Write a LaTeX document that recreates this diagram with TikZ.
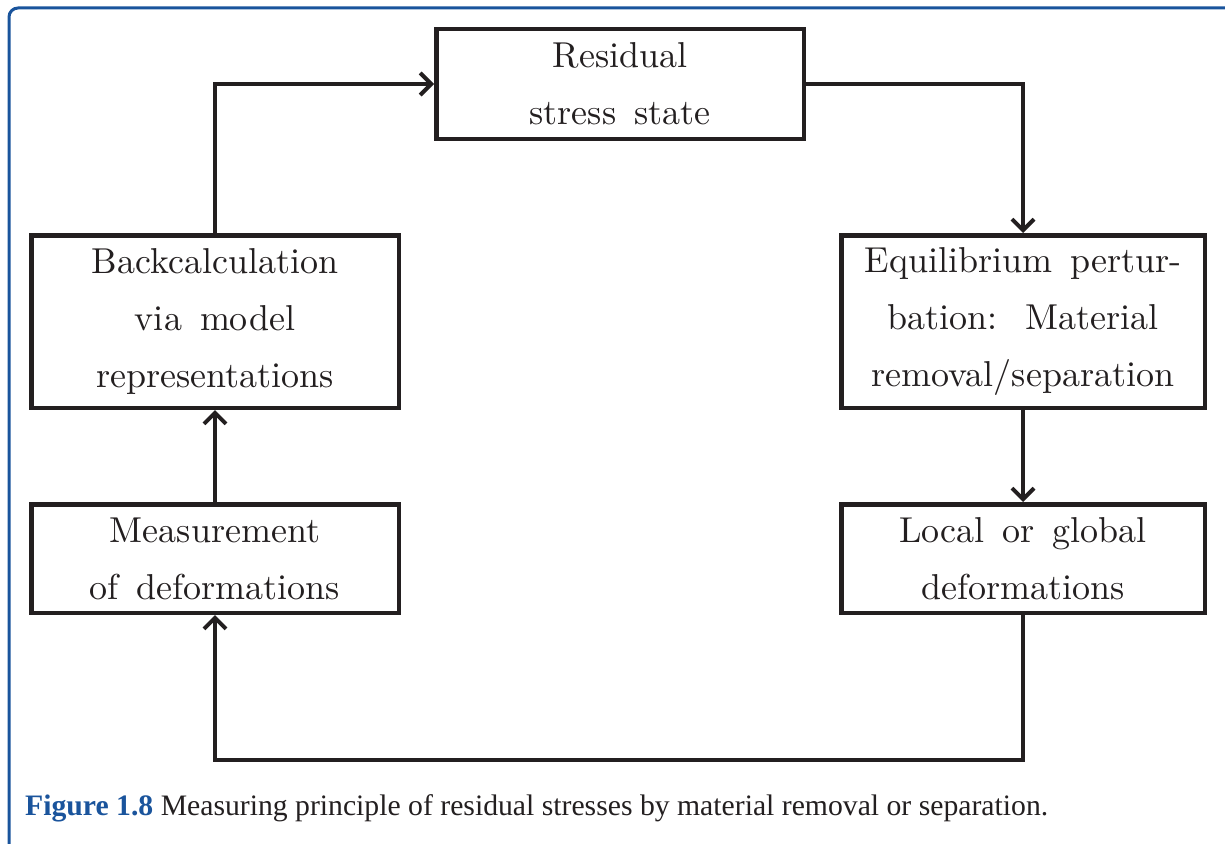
\documentclass[tikz,border=0pt]{standalone}
\usepackage{fontspec}
\usetikzlibrary{arrows.meta}
\newfontfamily\captionfont{Liberation Serif}
\newfontfamily\boxface{lmroman10-regular.otf}
\definecolor{frameblue}{RGB}{26,84,156}
\definecolor{ink}{RGB}{35,31,32}
% box text: large roman with wide interword spacing
\newcommand\boxtextfont{\boxface\fontsize{36}{57}\selectfont\spaceskip=0.5em\relax}
\begin{document}
\begin{tikzpicture}[x=1pt,y=-1pt,
  box/.style={draw=ink,line width=4.5pt,rectangle,align=center,inner sep=0pt,
    font=\boxtextfont,text=ink},
  flow/.style={draw=ink,line width=4.2pt,
    -{Straight Barb[length=11pt,width=22pt,line width=4pt]}}]
  \useasboundingbox (0,0) rectangle (1225,843);
  % frame around the figure
  \draw[frameblue,line width=3pt,rounded corners=9pt]
    (9,845) -- (9,8) -- (1230,8);
  % process boxes
  \node[box,minimum width=367.5pt,minimum height=109.5pt] (rss) at (620,84)
    {Residual\\stress state};
  \node[box,minimum width=367.5pt,minimum height=172.5pt] (back) at (215,321.5)
    {Backcalculation\\via model\\representations};
  \node[box,minimum width=363.5pt,minimum height=172.5pt] (equi) at (1023,321.5)
    {Equilibrium pertur-\\bation:\hspace{0.17em} Material\\removal/separation};
  \node[box,minimum width=367.5pt,minimum height=108.5pt] (meas) at (215,558.5)
    {Measurement\\of deformations};
  \node[box,minimum width=363.5pt,minimum height=108.5pt] (defo) at (1023,558.5)
    {Local or global\\deformations};
  % connectors
  \coordinate (loop) at (620,760);
  \draw[flow] (back.north) |- (rss.west);
  \draw[flow] (rss.east) -| (equi.north);
  \draw[flow] (equi.south) -- (defo.north);
  \draw[flow] (defo.south) -- (defo.south |- loop) -- (meas.south |- loop) -- (meas.south);
  \draw[flow] (meas.north) -- (back.south);
  % caption
  \node[anchor=base west,inner sep=0pt,font=\captionfont\fontsize{29.7}{32}\selectfont,text=ink]
    (cap) at (25,815)
    {\textcolor{frameblue}{\bfseries Figure 1.8} Measuring principle of residual stresses by material removal or separation.};
\end{tikzpicture}
\end{document}
